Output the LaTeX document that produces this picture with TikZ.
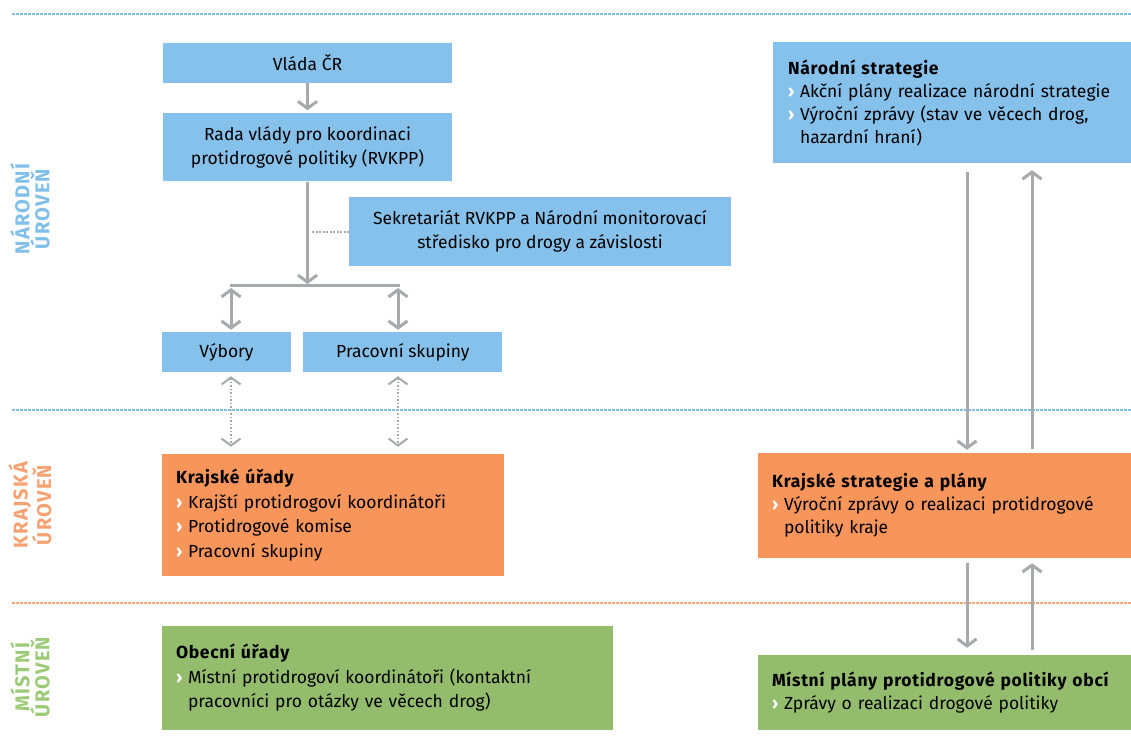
\documentclass[tikz,border=0pt]{standalone}
\usepackage{fontspec}
\setmainfont{Fira Sans}
\usetikzlibrary{positioning,arrows.meta}

\definecolor{narodni}{HTML}{85C1EA}
\definecolor{krajska}{HTML}{F7955A}
\definecolor{mistni}{HTML}{93BD6C}
\definecolor{seda}{HTML}{A7A9AC}
\definecolor{narodnipopis}{HTML}{80BFEA}
\definecolor{krajskapopis}{HTML}{F7A273}
\definecolor{mistnipopis}{HTML}{9CCA77}

\newcommand{\odrazka}{\makebox[12pt][l]{\textcolor{white}{\textbf{›}}}}
\newcommand{\odsazeni}{\hspace*{12pt}}
\newcommand{\nadpis}[1]{\mbox{\bfseries\addfontfeatures{LetterSpace=4}#1}}

\begin{document}
\begin{tikzpicture}[x=1pt, y=-1pt,
blok/.style={inner sep=0pt, align=center, font=\fontsize{17.5}{24}\selectfont},
seznam/.style={inner xsep=14pt, inner ysep=0pt, align=left, font=\fontsize{17.5}{24.5}\selectfont},
sipka/.style={draw=seda, line width=3pt, -{Straight Barb[length=7pt, width=19pt]}},
obousipka/.style={sipka, {Straight Barb[length=7pt, width=19pt]}-{Straight Barb[length=7pt, width=19pt]}},
tecky/.style={draw=seda, line width=2pt, dash pattern=on 1.5pt off 2pt, {Straight Barb[length=7pt, width=19pt]}-{Straight Barb[length=7pt, width=19pt]}},
predel/.style={line width=2.2pt, dash pattern=on 2.5pt off 1.5pt},
uroven/.style={rotate=90, align=center, font=\fontsize{20}{20}\selectfont\bfseries\addfontfeatures{LetterSpace=6}}
]
\useasboundingbox (0,0) rectangle (1131,751);

% predely urovni
\draw[predel, draw=narodnipopis] (12,14) -- (1131,14);
\draw[predel, draw=narodnipopis] (12,410) -- (1131,410);
\draw[predel, draw=krajskapopis] (12,603) -- (1131,603);

\node[uroven, text=narodnipopis] (popis_narodni) at (30,209) {NÁRODNÍ\\ÚROVEŇ};
\node[uroven, text=krajskapopis] (popis_krajska) at (30,505) {KRAJSKÁ\\ÚROVEŇ};
\node[uroven, text=mistnipopis] (popis_mistni) at (30,677) {MÍSTNÍ\\ÚROVEŇ};

% organy
\node[blok, fill=narodni, minimum width=289pt, minimum height=40pt] (vlada) at (307.5,63) {Vláda ČR};
\node[blok, fill=narodni, minimum width=289pt, minimum height=68pt] (rada) [below=30pt of vlada] {Rada vlády pro koordinaci\\protidrogové politiky (RVKPP)};
\node[blok, fill=narodni, minimum width=382pt, minimum height=69pt] (sekretariat) at (540,231.5) {Sekretariát RVKPP a Národní monitorovací\\středisko pro drogy a závislosti};
\node[blok, fill=narodni, minimum width=129pt, minimum height=40pt] (vybory) at (226.5,352) {Výbory};
\node[blok, fill=narodni, minimum width=199pt, minimum height=40pt] (skupiny) [right=12pt of vybory] {Pracovní skupiny};

\node[seznam, fill=krajska, text width=314pt, minimum height=122pt] (kraj_urady) at (333,515) {\nadpis{Krajské úřady}\\\odrazka Krajští protidrogoví koordinátoři\\\odrazka Protidrogové komise\\\odrazka Pracovní skupiny};
\node[seznam, fill=mistni, text width=423pt, minimum height=104pt] (obec_urady) at (387.5,678) {\nadpis{Obecní úřady}\\\odrazka Místní protidrogoví koordinátoři (kontaktní\\\odsazeni pracovníci pro otázky ve věcech drog)};

% dokumenty
\node[seznam, fill=narodni, inner xsep=15pt, text width=330pt, minimum height=121pt, font=\fontsize{17.5}{23}\selectfont] (narodni_str) at (953,102.5) {\nadpis{Národní strategie}\\\odrazka Akční plány realizace národní strategie\\\odrazka Výroční zprávy (stav ve věcech drog,\\\odsazeni hazardní hraní)};
\node[seznam, fill=krajska, text width=348pt, minimum height=105pt, font=\fontsize{17.5}{23}\selectfont] (kraj_str) at (946,505.5) {\nadpis{Krajské strategie a plány}\\\odrazka Výroční zprávy o realizaci protidrogové\\\odsazeni politiky kraje};
\node[seznam, fill=mistni, text width=348pt, minimum height=75pt, font=\fontsize{17.5}{23}\selectfont] (mistni_plany) at (946,692.5) {\nadpis{Místní plány protidrogové politiky obcí}\\\odrazka Zprávy o realizaci drogové politiky};

% vazby organu
\draw[sipka, shorten >=3pt] (vlada) -- (rada);
\coordinate (rozvod) at (307.5,285);
\coordinate (rozvod_l) at (231,285);
\coordinate (rozvod_p) at (398,285);
\draw[sipka, shorten >=1pt] (rada) -- (rozvod);
\draw[draw=seda, line width=3pt, line cap=rect] (rozvod_l) -- (rozvod_p);
\draw[obousipka, shorten <=3pt, shorten >=2pt] (rozvod_l) -- (rozvod_l |- vybory.north);
\draw[obousipka, shorten <=3pt, shorten >=2pt] (rozvod_p) -- (rozvod_p |- skupiny.north);
\coordinate (odbocka) at (312,232);
\draw[draw=seda, line width=2pt, dash pattern=on 2pt off 1.5pt] (odbocka) -- (odbocka -| sekretariat.west);
\draw[tecky, shorten <=4pt, shorten >=7pt] (rozvod_l |- vybory.south) -- (rozvod_l |- kraj_urady.north);
\draw[tecky, shorten <=4pt, shorten >=7pt] (rozvod_p |- skupiny.south) -- (rozvod_p |- kraj_urady.north);

% toky dokumentu
\coordinate (dolu) at (967,0);
\coordinate (nahoru) at (1032,0);
\draw[sipka, shorten <=9pt, shorten >=3pt] (dolu |- narodni_str.south) -- (dolu |- kraj_str.north);
\draw[sipka, shorten <=4pt, shorten >=7pt] (nahoru |- kraj_str.north) -- (nahoru |- narodni_str.south);
\draw[sipka, shorten <=5pt, shorten >=7pt] (dolu |- kraj_str.south) -- (dolu |- mistni_plany.north);
\draw[sipka, shorten <=5pt, shorten >=5pt] (nahoru |- mistni_plany.north) -- (nahoru |- kraj_str.south);
\end{tikzpicture}
\end{document}
